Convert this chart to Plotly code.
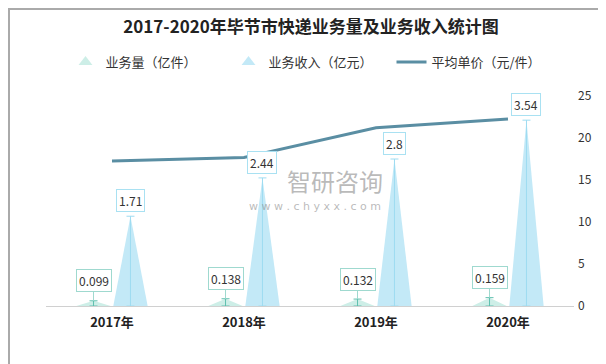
import plotly.graph_objects as go

categories = ["2017年", "2018年", "2019年", "2020年"]
volume = [0.099, 0.138, 0.132, 0.159]        # 业务量（亿件）
revenue = [1.71, 2.44, 2.8, 3.54]            # 业务收入（亿元）
avg_price = [17.27, 17.68, 21.21, 22.26]     # 平均单价（元/件）
price_ticks = [0, 5, 10, 15, 20, 25]

W, H = 606, 364
ML, MR, MT, MB = 38, 40, 88, 66
PW, PH = W - ML - MR, H - MT - MB

FONT = "Noto Sans CJK SC"
VOL_FILL = "#cdeee7"
VOL_LINE = "#5fbfae"
VOL_BORDER = "#9fd9cf"
REV_FILL = "#c3e9f7"
REV_LINE = "#9edcf1"
REV_BORDER = "#a9e1f2"
LINE_COLOR = "#5a8ea3"

OFF = 0.14
HW = 0.13

fig = go.Figure()

def add_triangles(values, offset, fill, name, lcolor):
    for i, v in enumerate(values):
        cx = i + offset
        fig.add_trace(go.Scatter(
            x=[cx - HW, cx, cx + HW, cx - HW], y=[0, v, 0, 0],
            mode="lines", fill="toself", fillcolor=fill,
            line=dict(width=0), showlegend=False, hoverinfo="skip",
            legendgroup=name))
    fig.add_trace(go.Scatter(
        x=[i + offset for i in range(len(values))], y=values,
        mode="markers", marker=dict(size=1, color="rgba(0,0,0,0)"),
        error_y=dict(type="data", symmetric=False,
                     array=[0] * len(values), arrayminus=values,
                     color=lcolor, thickness=1, width=4),
        showlegend=False, hoverinfo="skip", legendgroup=name))
    fig.add_trace(go.Scatter(
        x=[None], y=[None], mode="markers", name=name,
        marker=dict(symbol="triangle-up", size=12, color=fill),
        legendgroup=name))

add_triangles(volume, -OFF, VOL_FILL, "业务量（亿件）", VOL_LINE)
add_triangles(revenue, OFF, REV_FILL, "业务收入（亿元）", REV_LINE)

fig.add_trace(go.Scatter(
    x=list(range(len(categories))), y=avg_price, mode="lines",
    name="平均单价（元/件）", line=dict(color=LINE_COLOR, width=3),
    yaxis="y2", hoverinfo="skip"))

annotations = []
for i, v in enumerate(revenue):
    annotations.append(dict(
        x=i + OFF, y=v, xref="x", yref="y", text=str(v), showarrow=False,
        yanchor="bottom", yshift=4, bgcolor="white", bordercolor=REV_BORDER,
        borderwidth=1, borderpad=2, font=dict(family=FONT, size=12, color="#333")))
for i, v in enumerate(volume):
    annotations.append(dict(
        x=i - OFF, y=v, xref="x", yref="y", text=str(v), showarrow=True,
        arrowhead=0, arrowwidth=1, arrowcolor=VOL_BORDER, ax=0, ay=-20,
        bgcolor="white", bordercolor=VOL_BORDER, borderwidth=1, borderpad=2,
        font=dict(family=FONT, size=12, color="#333")))

# watermark (pixel positions converted to paper coords)
wm = [
    dict(px=376, py=172, text="智研咨询",
         font=dict(family=FONT, size=24, color="rgba(140,140,140,0.6)")),
    dict(px=374, py=198, text="w w w . c h y x x . c o m",
         font=dict(family="DejaVu Sans", size=11, color="rgba(140,140,140,0.6)")),
]
for w in wm:
    annotations.append(dict(
        x=(w["px"] - ML) / PW, y=(H - MB - w["py"]) / PH, xref="paper",
        yref="paper", xanchor="right", yanchor="middle", text=w["text"],
        showarrow=False, font=w["font"], borderpad=0))

fig.update_layout(
    width=W, height=H,
    margin=dict(l=ML, r=MR, t=MT, b=MB),
    paper_bgcolor="white", plot_bgcolor="white",
    font=dict(family=FONT, color="#333"),
    title=dict(text="<b>2017-2020年毕节市快递业务量及业务收入统计图</b>",
               x=0.5, xanchor="center", y=1 - 19 / H, yanchor="middle",
               yref="container", font=dict(family=FONT, size=17, color="#222")),
    legend=dict(orientation="h", x=0.5, xanchor="center",
                y=1 + (MT - 54) / PH, yanchor="middle",
                font=dict(family=FONT, size=13, color="#333"),
                itemwidth=30, entrywidth=118, tracegroupgap=0,
                bgcolor="rgba(0,0,0,0)"),
    xaxis=dict(range=[-0.5, 3.5], tickmode="array",
               tickvals=list(range(len(categories))), ticktext=categories,
               ticks="", showgrid=False, zeroline=False, showline=True,
               linecolor="#d0d0d0", linewidth=1, ticklabelstandoff=4,
               tickfont=dict(family=FONT, size=13, color="#222", weight="bold")),
    yaxis=dict(range=[0, 4], visible=False, showgrid=False, zeroline=False),
    yaxis2=dict(range=[0, 25], overlaying="y", side="right", anchor="x",
                tickmode="array", tickvals=price_ticks, showgrid=False,
                zeroline=False, showline=False, ticks="",
                ticklabelstandoff=3,
                tickfont=dict(family=FONT, size=12, color="#333")),
    annotations=annotations,
    shapes=[dict(type="rect", xref="paper", yref="paper",
                 x0=(-ML + 1) / PW, x1=1 + (MR - 1) / PW,
                 y0=(-MB + 1) / PH, y1=1 + (MT - 1) / PH,
                 line=dict(color="#aaaaaa", width=2), layer="above")],
)

fig.write_html("out.html")
